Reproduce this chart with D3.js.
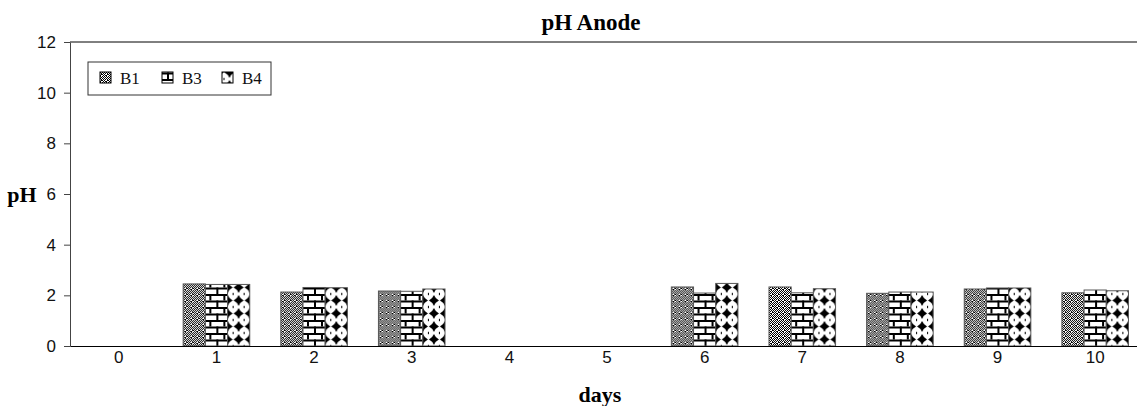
<!DOCTYPE html>
<html>
<head>
<meta charset="utf-8">
<script src="https://cdn.jsdelivr.net/npm/d3@7"></script>
<style>
  body { margin: 0; background: #fff; }
  svg { display: block; }
</style>
</head>
<body>
<script>
var days = ['0','1','2','3','4','5','6','7','8','9','10'];
var seriesNames = ['B1','B3','B4'];
// null = no measurement that day
var b1 = [null, 2.45, 2.13, 2.17, null, null, 2.33, 2.33, 2.08, 2.25, 2.10];
var b3 = [null, 2.43, 2.31, 2.16, null, null, 2.09, 2.10, 2.13, 2.29, 2.21];
var b4 = [null, 2.43, 2.30, 2.25, null, null, 2.47, 2.26, 2.13, 2.29, 2.18];
var yTicks = [0, 2, 4, 6, 8, 10, 12];

var svgWidth = 1137, svgHeight = 406;
var plotLeft = 70, plotRight = 1144, plotTop = 42, plotBottom = 346;

var svg = d3.select('body').append('svg')
  .attr('width', svgWidth).attr('height', svgHeight);
var defs = svg.append('defs');

var x = d3.scaleBand().domain(days).range([plotLeft, plotRight]).padding(0);
var xs = d3.scaleBand().domain(seriesNames).range([0, x.bandwidth()])
  .paddingInner(0).paddingOuter(0.7);
var y = d3.scaleLinear().domain([0, 12]).range([plotBottom, plotTop]);

// pattern painters, drawn into a pattern element anchored at (px, py)
function star(cx, cy) {
  return 'M' + cx + ',' + (cy - 5.5) +
    ' Q' + (cx + 1.6) + ',' + (cy - 1.6) + ' ' + (cx + 5) + ',' + cy +
    ' Q' + (cx + 1.6) + ',' + (cy + 1.6) + ' ' + cx + ',' + (cy + 5.5) +
    ' Q' + (cx - 1.6) + ',' + (cy + 1.6) + ' ' + (cx - 5) + ',' + cy +
    ' Q' + (cx - 1.6) + ',' + (cy - 1.6) + ' ' + cx + ',' + (cy - 5.5) + 'Z';
}
var painters = {
  B1: function (p) {
    p.attr('width', 6).attr('height', 6);
    p.append('rect').attr('width', 6).attr('height', 6).attr('fill', '#fff');
    var blacks = [[0,0],[2,0],[4,0],[1,1],[3,1],[5,1],[0,2],[4,2],[1,3],[5,3],
                  [0,4],[2,4],[4,4],[1,5],[3,5],[5,5],[3,2],[2,3]];
    blacks.forEach(function (b) {
      p.append('rect').attr('x', b[0]).attr('y', b[1])
        .attr('width', 1).attr('height', 1).attr('fill', '#000');
    });
  },
  B3: function (p) {
    p.attr('width', 14).attr('height', 13);
    p.append('rect').attr('width', 14).attr('height', 13).attr('fill', '#fff');
    p.append('rect').attr('x', 0).attr('y', 0).attr('width', 14).attr('height', 2).attr('fill', '#000');
    p.append('rect').attr('x', 0).attr('y', 6.5).attr('width', 14).attr('height', 2).attr('fill', '#000');
    p.append('rect').attr('x', 4).attr('y', 0).attr('width', 2).attr('height', 6.5).attr('fill', '#000');
    p.append('rect').attr('x', 11).attr('y', 6.5).attr('width', 2).attr('height', 6.5).attr('fill', '#000');
  },
  B4: function (p) {
    p.attr('width', 11).attr('height', 13);
    p.append('rect').attr('width', 11).attr('height', 13).attr('fill', '#fff');
    p.append('path').attr('d', star(0, 6.5)).attr('fill', '#000');
    p.append('path').attr('d', star(11, 6.5)).attr('fill', '#000');
    p.append('rect').attr('x', 5).attr('y', 0).attr('width', 1).attr('height', 1.2).attr('fill', '#000');
    p.append('rect').attr('x', 5).attr('y', 11.8).attr('width', 1).attr('height', 1.2).attr('fill', '#000');
  }
};
function makePattern(id, key, px, py) {
  var p = defs.append('pattern').attr('id', id)
    .attr('patternUnits', 'userSpaceOnUse')
    .attr('x', px).attr('y', py);
  painters[key](p);
  return 'url(#' + id + ')';
}

var bars = [];
days.forEach(function (d, i) {
  [[ 'B1', b1[i] ], [ 'B3', b3[i] ], [ 'B4', b4[i] ]].forEach(function (s) {
    if (s[1] != null) bars.push({ day: d, key: s[0], v: s[1] });
  });
});

// top border line
svg.append('line')
  .attr('x1', plotLeft).attr('x2', plotRight).attr('y1', plotTop).attr('y2', plotTop)
  .attr('stroke', '#000').attr('stroke-width', 1);

// bars
svg.append('g').selectAll('rect')
  .data(bars)
  .enter().append('rect')
  .attr('x', function (d) { return x(d.day) + xs(d.key); })
  .attr('y', function (d) { return y(d.v); })
  .attr('width', xs.bandwidth())
  .attr('height', function (d) { return plotBottom - y(d.v); })
  .attr('fill', function (d, i) {
    var bx = x(d.day) + xs(d.key);
    var off = d.key === 'B4' ? bx + xs.bandwidth() / 2 : bx;
    return makePattern('pat-bar-' + i, d.key, off, plotBottom);
  })
  .attr('stroke', '#555').attr('stroke-width', 1);

// y axis
var yAxis = svg.append('g')
  .attr('transform', 'translate(' + plotLeft + ',0)')
  .call(d3.axisLeft(y).tickValues(yTicks).tickSize(6).tickPadding(8).tickSizeOuter(0));
yAxis.select('.domain').attr('stroke', '#444');
yAxis.selectAll('.tick line').attr('stroke', '#444');
yAxis.selectAll('text')
  .attr('font-family', 'Liberation Sans, Arial, sans-serif')
  .attr('font-size', 17).attr('fill', '#111');

// x axis
var xAxis = svg.append('g')
  .attr('transform', 'translate(0,' + plotBottom + ')')
  .call(d3.axisBottom(x).tickSize(0).tickPadding(5).tickSizeOuter(0));
xAxis.select('.domain').attr('stroke', '#000');
xAxis.selectAll('text')
  .attr('font-family', 'Liberation Sans, Arial, sans-serif')
  .attr('font-size', 17).attr('fill', '#111');

// titles
svg.append('text')
  .attr('x', 591).attr('y', 30)
  .attr('text-anchor', 'middle')
  .attr('font-family', 'Liberation Serif, Times New Roman, serif')
  .attr('font-weight', 'bold').attr('font-size', 23)
  .text('pH Anode');

svg.append('text')
  .attr('x', 600).attr('y', 402)
  .attr('text-anchor', 'middle')
  .attr('font-family', 'Liberation Serif, Times New Roman, serif')
  .attr('font-weight', 'bold').attr('font-size', 22)
  .text('days');

svg.append('text')
  .attr('x', 22).attr('y', 202)
  .attr('text-anchor', 'middle')
  .attr('font-family', 'Liberation Serif, Times New Roman, serif')
  .attr('font-weight', 'bold').attr('font-size', 22)
  .text('pH');

// legend
var legend = svg.append('g').attr('transform', 'translate(88,62)');
legend.append('rect')
  .attr('width', 183).attr('height', 33)
  .attr('fill', '#fff').attr('stroke', '#333').attr('stroke-width', 1);
var legX = [12, 74, 134];
var item = legend.selectAll('g.item')
  .data(seriesNames)
  .enter().append('g').attr('class', 'item')
  .attr('transform', function (d, i) { return 'translate(' + legX[i] + ',10)'; });
item.append('rect')
  .attr('width', 11).attr('height', 11)
  .attr('fill', function (d, i) {
    return makePattern('pat-leg-' + i, d, 88 + legX[i] + (d === 'B4' ? 5.5 : 0), 72);
  })
  .attr('stroke', '#000').attr('stroke-width', 1);
item.append('text')
  .attr('x', 20).attr('y', 12)
  .attr('font-family', 'Liberation Serif, Times New Roman, serif')
  .attr('font-size', 17).attr('fill', '#111')
  .text(function (d) { return d; });
</script>
</body>
</html>
